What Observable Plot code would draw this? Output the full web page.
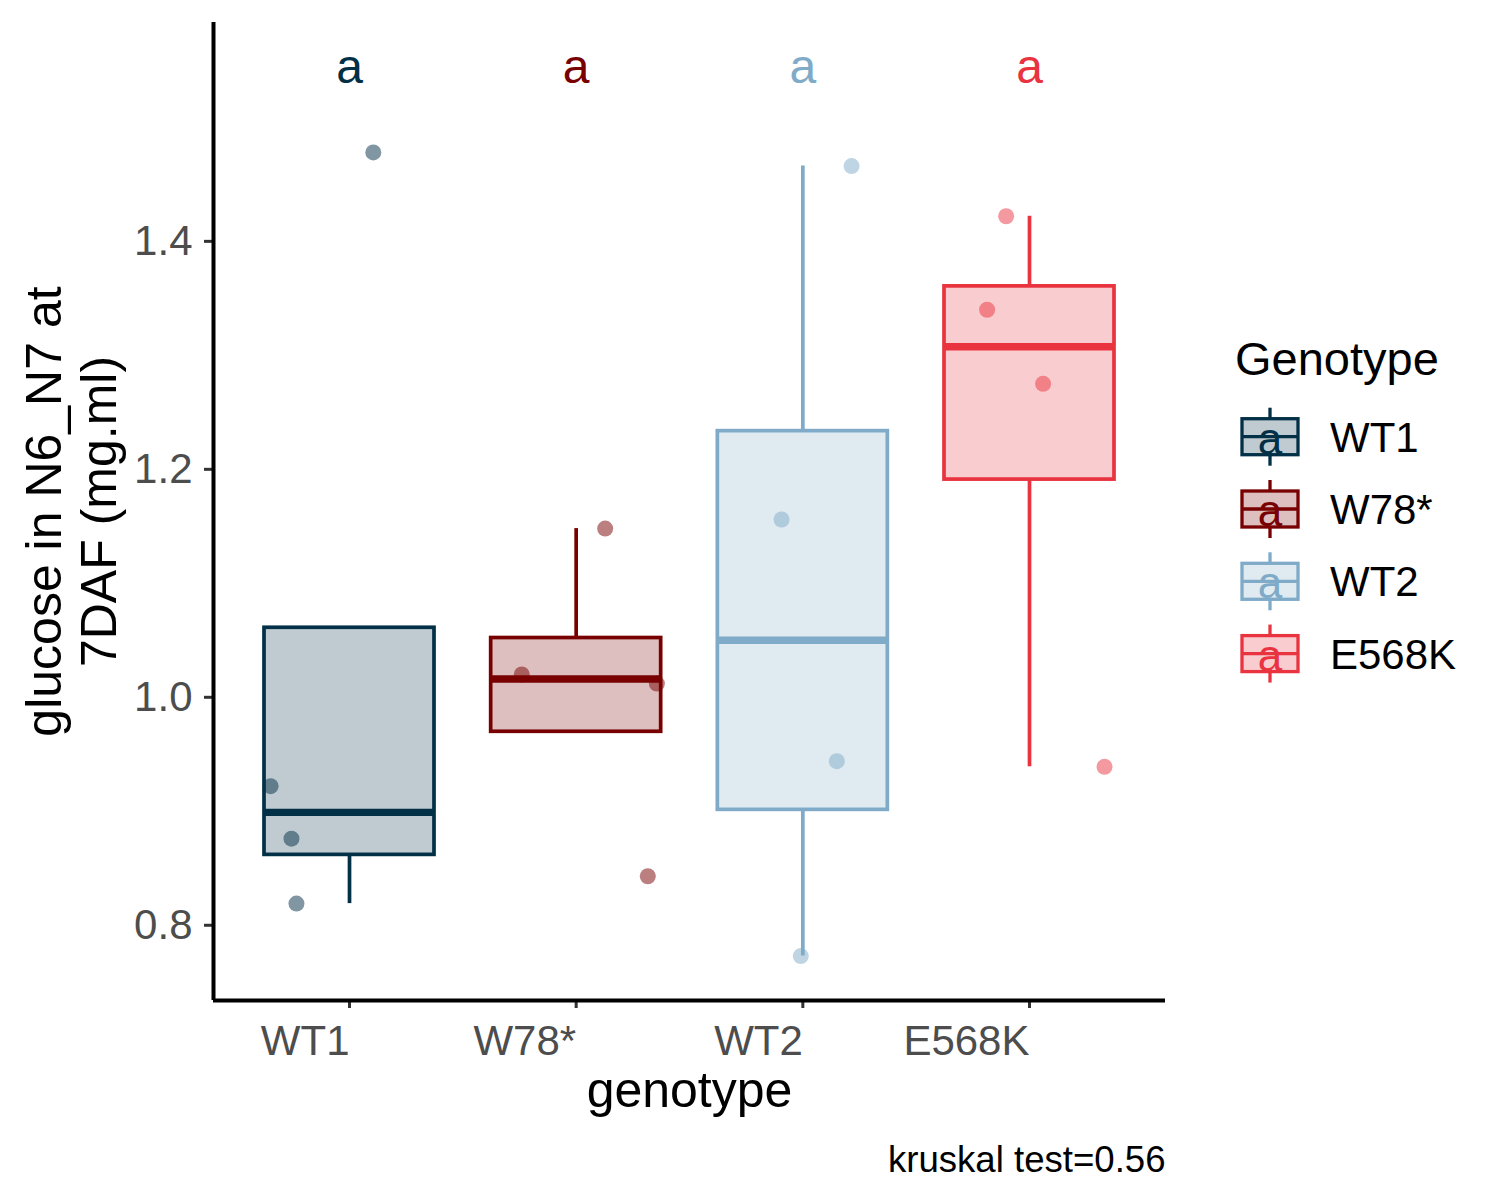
<!DOCTYPE html>
<html><head><meta charset="utf-8">
<script src="https://cdn.jsdelivr.net/npm/d3@7"></script>
<script src="https://cdn.jsdelivr.net/npm/@observablehq/plot@0.6"></script>
<style>
body{margin:0;background:#fff;}
#chart{width:1500px;height:1200px;}
</style></head><body><div id="chart"></div>
<script>
// ---- data ----
const genotypes = ["WT1", "W78*", "WT2", "E568K"];
const colors = ["#023047", "#780000", "#7fabc8", "#e9333f"];
const letters = ["a", "a", "a", "a"];
const wt1Values = [1.478, 0.922, 0.876, 0.819];
const w78Values = [1.148, 1.020, 1.012, 0.843];
const wt2Values = [1.466, 1.156, 0.944, 0.773];
const e568kValues = [1.422, 1.340, 1.275, 0.939];
// horizontal jitter offsets (in category units)
const wt1Jitter = [0.105, -0.348, -0.256, -0.234];
const w78Jitter = [0.128, -0.240, 0.356, 0.316];
const wt2Jitter = [0.215, -0.094, 0.150, -0.009];
const e568kJitter = [-0.103, -0.187, 0.060, 0.331];
const yTicks = [0.8, 1.0, 1.2, 1.4];
const letterY = 1.552;
const xTitle = "genotype";
const yTitle = "glucose in N6_N7 at\n7DAF (mg.ml)";
const legendTitle = "Genotype";
const caption = "kruskal test=0.56";

// ---- derived tables ----
const valueSets = [wt1Values, w78Values, wt2Values, e568kValues];
const jitterSets = [wt1Jitter, w78Jitter, wt2Jitter, e568kJitter];
const points = genotypes.flatMap((g, i) => valueSets[i].map((v, j) => ({genotype: g, idx: i + 1, value: v, jitter: jitterSets[i][j]})));
const stats = genotypes.map((g, i) => {
  const s = valueSets[i].slice().sort(d3.ascending);
  const q1 = d3.quantile(s, 0.25), med = d3.quantile(s, 0.5), q3 = d3.quantile(s, 0.75);
  const iqr = q3 - q1;
  const inside = s.filter(v => v >= q1 - 1.5 * iqr && v <= q3 + 1.5 * iqr);
  return {genotype: g, idx: i + 1, letter: letters[i], q1, median: med, q3,
    lo: Math.min(q1, d3.min(inside)), hi: Math.max(q3, d3.max(inside))};
});

const xDomain = [0.4, 4.6];
const yDomain = [0.734, 1.592];
const boxHalf = 0.375;
const font = "'Liberation Sans', Arial, Helvetica, sans-serif";

const svg = Plot.plot({
  width: 1500, height: 1200,
  marginLeft: 213, marginRight: 335, marginTop: 22, marginBottom: 200,
  style: {fontFamily: font, background: "#ffffff"},
  x: {domain: xDomain, axis: null},
  y: {domain: yDomain, axis: null},
  color: {domain: genotypes, range: colors},
  marks: [
    Plot.ruleX(stats, {x: "idx", y1: "q3", y2: "hi", stroke: "genotype", strokeWidth: 3.7}),
    Plot.ruleX(stats, {x: "idx", y1: "lo", y2: "q1", stroke: "genotype", strokeWidth: 3.7}),
    Plot.rect(stats, {x1: d => d.idx - boxHalf, x2: d => d.idx + boxHalf, y1: "q1", y2: "q3",
      fill: "genotype", fillOpacity: 0.25, stroke: "genotype", strokeWidth: 3.7}),
    Plot.ruleY(stats, {y: "median", x1: d => d.idx - boxHalf, x2: d => d.idx + boxHalf, stroke: "genotype", strokeWidth: 7.4}),
    Plot.dot(points, {x: d => d.idx + d.jitter, y: "value", r: 8, fill: "genotype", fillOpacity: 0.5, stroke: null}),
    Plot.text(stats, {x: "idx", y: () => letterY, text: "letter", fill: "genotype", fontSize: 48}),
    Plot.axisX({ticks: [1, 2, 3, 4], tickFormat: d => genotypes[d - 1], textAnchor: "end",
      tickSize: 8, tickPadding: 17, fontSize: 42, fill: "#4d4d4d", stroke: "#333333", strokeWidth: 3, label: null}),
    Plot.axisY({ticks: yTicks, tickFormat: d3.format(".1f"), tickSize: 9, tickPadding: 12,
      fontSize: 42, fill: "#4d4d4d", stroke: "#333333", strokeWidth: 3, label: null}),
    Plot.ruleX([xDomain[0]], {stroke: "#000", strokeWidth: 4}),
    Plot.ruleY([yDomain[0]], {stroke: "#000", strokeWidth: 4}),
    Plot.text([xTitle], {frameAnchor: "bottom", text: d => d, dy: 106, lineAnchor: "bottom", fontSize: 50, fill: "#000"}),
    Plot.text([yTitle], {frameAnchor: "left", text: d => d, rotate: -90, dx: -98, textAnchor: "middle", lineAnchor: "bottom", lineHeight: 1.1, fontSize: 50, fill: "#000"}),
    Plot.text([caption], {frameAnchor: "bottom-right", text: d => d, dy: 171, textAnchor: "end", lineAnchor: "bottom", fontSize: 36.6, fill: "#000"})
  ]
});

// ---- legend (box-style keys with the letter glyph) ----
const lg = d3.select(svg).append("g").attr("font-family", font).attr("text-anchor", "start");
lg.append("text").attr("x", 1235).attr("y", 375).attr("text-anchor", "start").attr("font-size", 47).attr("fill", "#000").text(legendTitle);
genotypes.forEach((g, i) => {
  const cy = 436.7 + i * 72.3, cx = 1270, c = colors[i];
  const k = lg.append("g");
  k.append("line").attr("x1", cx).attr("x2", cx).attr("y1", cy - 29).attr("y2", cy - 18).attr("stroke", c).attr("stroke-width", 3.3);
  k.append("line").attr("x1", cx).attr("x2", cx).attr("y1", cy + 18).attr("y2", cy + 29).attr("stroke", c).attr("stroke-width", 3.3);
  k.append("rect").attr("x", 1242).attr("y", cy - 18).attr("width", 56).attr("height", 36)
    .attr("fill", c).attr("fill-opacity", 0.25).attr("stroke", c).attr("stroke-width", 3.3);
  k.append("line").attr("x1", 1242).attr("x2", 1298).attr("y1", cy).attr("y2", cy).attr("stroke", c).attr("stroke-width", 3.3);
  k.append("text").attr("x", cx).attr("y", cy + 17).attr("text-anchor", "middle").attr("font-size", 44).attr("fill", c).text(letters[i]);
  lg.append("text").attr("x", 1330).attr("y", cy + 15).attr("text-anchor", "start").attr("font-size", 42).attr("fill", "#000").text(g);
});

document.getElementById("chart").appendChild(svg);
</script>
</body></html>
